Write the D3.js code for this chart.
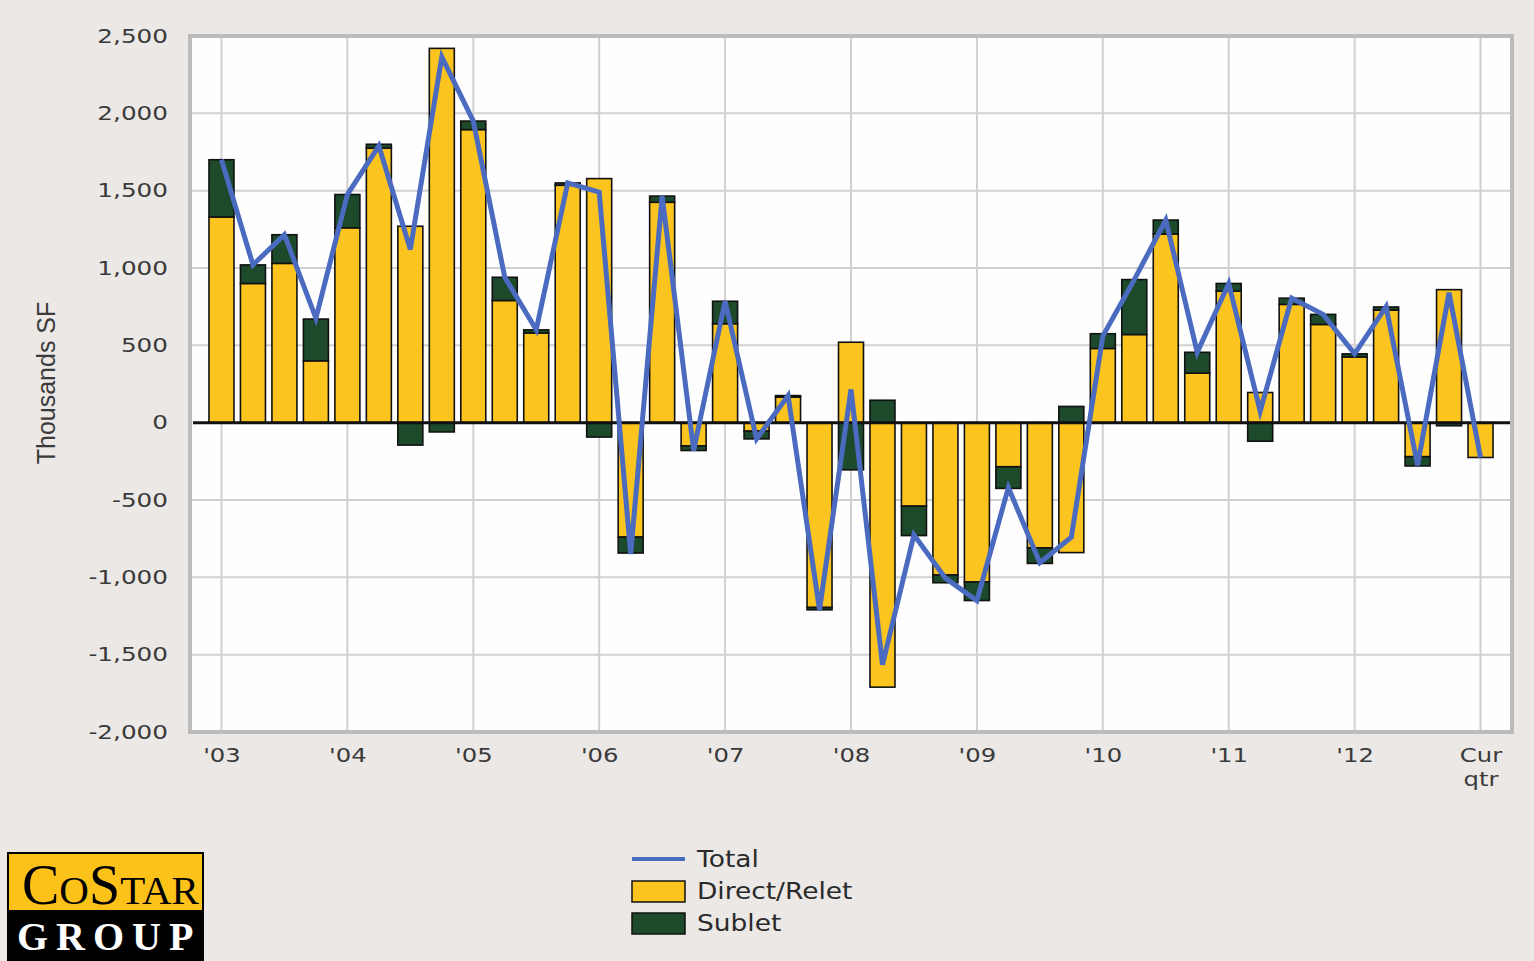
<!DOCTYPE html>
<html>
<head>
<meta charset="utf-8">
<script src="https://cdn.jsdelivr.net/npm/d3@7"></script>
<style>
    body { margin: 0; background: #ebe8e6; }
    svg { display: block; }
</style>
</head>
<body>
<div id="chart"></div>
<script>
// quarterly absorption, thousands SF, '03 Q1 .. current quarter
const yearLabels = ["'03", "'04", "'05", "'06", "'07", "'08", "'09", "'10", "'11", "'12", "Cur qtr"]
const direct = [1330, 900, 1030, 400, 1260, 1775, 1270, 2420, 1895, 790, 580, 1535, 1578, -740, 1425, -150,
    640, -55, 165, -1195, 520, -1710, -540, -985, -1030, -285, -810, -840, 480, 570, 1220, 320, 850, 195,
    765, 635, 425, 728, -220, 860, -225]
const sublet = [370, 120, 185, 270, 215, 25, -145, -60, 55, 150, 20, 15, -93, -103, 40, -30,
    145, -50, 10, -15, -305, 145, -190, -50, -120, -140, -100, 105, 95, 355, 90, 135, 50, -120,
    40, 65, 20, 20, -60, -20, 0]
const total = [1700, 1020, 1215, 675, 1475, 1790, 1120, 2365, 1950, 940, 600, 1550, 1490, -850, 1465, -180,
    785, -105, 175, -1210, 215, -1565, -725, -1005, -1150, -420, -905, -740, 560, 925, 1310, 455, 900, 75,
    805, 700, 445, 750, -275, 840, -225]
const yTicks = [-2000, -1500, -1000, -500, 0, 500, 1000, 1500, 2000, 2500]

const width = 1534
const height = 961
const plotL = 190, plotR = 1512, plotT = 36, plotB = 732

const yellow = '#fbc41f'
const green = '#1c4a2a'
const blue = '#4a6bc0'
const labelFont = '"DejaVu Sans", Verdana, sans-serif'

const xScale = d3.scaleLinear().domain([-1, direct.length]).range([plotL, plotR])
const yScale = d3.scaleLinear().domain([-2000, 2500]).range([plotB, plotT])
const barWidth = 25

const svg = d3.select('#chart').append('svg')
    .attr('width', width)
    .attr('height', height)

svg.append('rect')
    .attr('width', width).attr('height', height)
    .attr('fill', '#ebe8e6')

// plot area
svg.append('rect')
    .attr('x', plotL).attr('y', plotT)
    .attr('width', plotR - plotL).attr('height', plotB - plotT)
    .attr('fill', '#fefefe')

// gridlines
svg.append('g').selectAll('line')
    .data(yTicks.filter(d => d != 0))
    .enter().append('line')
    .attr('x1', plotL).attr('x2', plotR)
    .attr('y1', d => yScale(d)).attr('y2', d => yScale(d))
    .attr('stroke', '#d2d0d0').attr('stroke-width', 2)

const yearIdx = yearLabels.map((d, i) => i * 4)
svg.append('g').selectAll('line')
    .data(yearIdx)
    .enter().append('line')
    .attr('x1', d => xScale(d)).attr('x2', d => xScale(d))
    .attr('y1', plotT).attr('y2', plotB)
    .attr('stroke', '#d2d0d0').attr('stroke-width', 2)

// frame
svg.append('rect')
    .attr('x', plotL).attr('y', plotT)
    .attr('width', plotR - plotL).attr('height', plotB - plotT)
    .attr('fill', 'none')
    .attr('stroke', '#bdbcbc').attr('stroke-width', 4)

// stacked bars
const rows = direct.map((d, i) => ({ direct: d, sublet: sublet[i] }))
const series = d3.stack()
    .keys(['direct', 'sublet'])
    .offset(d3.stackOffsetDiverging)(rows)
const colors = { direct: yellow, sublet: green }

series.forEach(s => {
    svg.append('g').selectAll('rect')
        .data(s.map((d, i) => ({ lo: d[0], hi: d[1], i: i })).filter(d => d.hi != d.lo))
        .enter().append('rect')
        .attr('x', d => xScale(d.i) - barWidth / 2)
        .attr('y', d => yScale(Math.max(d.lo, d.hi)))
        .attr('width', barWidth)
        .attr('height', d => Math.abs(yScale(d.lo) - yScale(d.hi)))
        .attr('fill', colors[s.key])
        .attr('stroke', '#111')
        .attr('stroke-width', 1.6)
})

// zero line
svg.append('line')
    .attr('x1', plotL + 3).attr('x2', plotR - 2)
    .attr('y1', yScale(0)).attr('y2', yScale(0))
    .attr('stroke', '#111').attr('stroke-width', 3)

// total line
const line = d3.line()
    .x((d, i) => xScale(i))
    .y(d => yScale(d))
svg.append('path')
    .datum(total)
    .attr('d', line)
    .attr('fill', 'none')
    .attr('stroke', blue)
    .attr('stroke-width', 5)
    .attr('stroke-linejoin', 'miter')

// y axis
const fmt = d3.format(',')
const yAxis = svg.append('g')
    .attr('transform', 'translate(' + plotL + ',0)')
    .call(d3.axisLeft(yScale).tickValues(yTicks).tickSize(0).tickPadding(22)
        .tickFormat(d => fmt(d).replace('\u2212', '-')))
yAxis.select('.domain').remove()
yAxis.selectAll('text')
    .style('font-family', labelFont)
    .style('font-size', '19px')
    .style('transform', 'scale(1.3,1)')
    .style('transform-box', 'fill-box')
    .style('transform-origin', 'right')
    .attr('fill', '#3a3a3a')

// x axis
const xAxis = svg.append('g')
    .attr('transform', 'translate(0,' + plotB + ')')
    .call(d3.axisBottom(xScale).tickValues(yearIdx).tickSize(0).tickPadding(17)
        .tickFormat((d, i) => yearLabels[i]))
xAxis.select('.domain').remove()
xAxis.selectAll('text')
    .style('font-family', labelFont)
    .style('font-size', '19px')
    .attr('fill', '#3a3a3a')
    .each(function (d, i) {
        let words = yearLabels[i].split(' ')
        if (words.length > 1) {
            let t = d3.select(this).text(null)
            words.forEach((w, k) => {
                t.append('tspan').attr('x', 0).attr('dy', k == 0 ? '0.71em' : '1.25em').text(w)
            })
        }
    })
    .style('transform', 'scale(1.28,1)')
    .style('transform-box', 'fill-box')
    .style('transform-origin', 'center')

// axis title
svg.append('text')
    .attr('transform', 'translate(55,383) rotate(-90)')
    .attr('text-anchor', 'middle')
    .style('font-family', '"Liberation Sans", Arial, sans-serif')
    .style('font-size', '25px')
    .attr('fill', '#3a3a3a')
    .text('Thousands SF')

// legend
const legend = svg.append('g').attr('transform', 'translate(632,859)')
legend.append('line')
    .attr('x1', 0).attr('x2', 53)
    .attr('stroke', blue).attr('stroke-width', 4)
const legendItems = [{ name: 'Direct/Relet', color: yellow }, { name: 'Sublet', color: green }]
legend.selectAll('rect')
    .data(legendItems)
    .enter().append('rect')
    .attr('x', 0).attr('y', (d, i) => 22 + i * 32)
    .attr('width', 53).attr('height', 21)
    .attr('fill', d => d.color)
    .attr('stroke', '#111').attr('stroke-width', 1.5)
legend.selectAll('text')
    .data(['Total'].concat(legendItems.map(d => d.name)))
    .enter().append('text')
    .attr('x', 65).attr('y', (d, i) => 8 + i * 32)
    .style('font-family', labelFont)
    .style('font-size', '23px')
    .style('transform', 'scale(1.15,1)')
    .style('transform-box', 'fill-box')
    .style('transform-origin', 'left')
    .attr('fill', '#2a2a2a')
    .text(d => d)

// logo
const logo = svg.append('g')
logo.append('rect')
    .attr('x', 8).attr('y', 853).attr('width', 195).attr('height', 58)
    .attr('fill', '#fcc21a').attr('stroke', '#000').attr('stroke-width', 2)
logo.append('rect')
    .attr('x', 7).attr('y', 910).attr('width', 197).attr('height', 51)
    .attr('fill', '#000')
const costar = logo.append('text')
    .attr('x', 22).attr('y', 904)
    .style('font-family', '"Liberation Serif", "Times New Roman", serif')
    .attr('fill', '#000')
costar.append('tspan').style('font-size', '56px').text('C')
costar.append('tspan').style('font-size', '41px').text('O')
costar.append('tspan').style('font-size', '56px').text('S')
costar.append('tspan').style('font-size', '41px').text('TAR')
logo.append('text')
    .attr('x', 17).attr('y', 950)
    .style('font-family', '"Liberation Serif", "Times New Roman", serif')
    .style('font-size', '40px')
    .style('font-weight', 'bold')
    .style('letter-spacing', '8px')
    .attr('fill', '#fff')
    .text('GROUP')
</script>
</body>
</html>
